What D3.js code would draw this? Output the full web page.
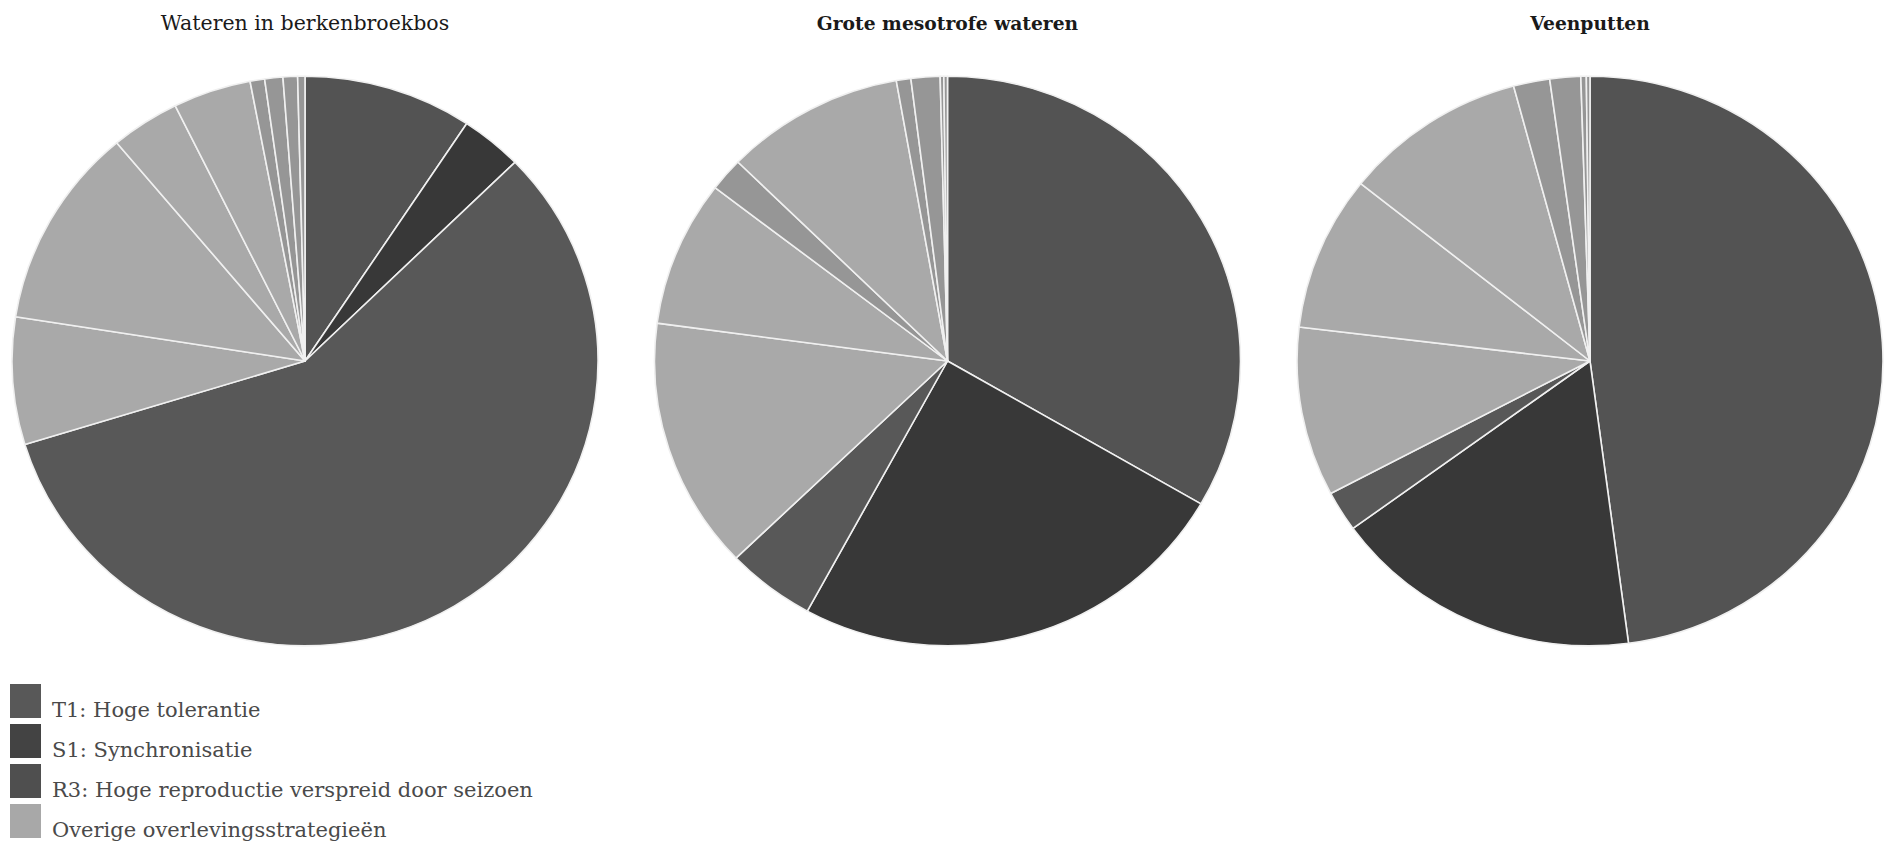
<!DOCTYPE html>
<html>
<head>
<meta charset="utf-8">
<script src="https://cdn.jsdelivr.net/npm/d3@7"></script>
<style>
  html, body { margin: 0; padding: 0; background: #ffffff; }
  svg { display: block; }
</style>
</head>
<body>
<svg id="chart" width="1887" height="845"></svg>
<script>
// ---- data (percentages, read clockwise from 12 o'clock) ----
const chartTitles = ["Wateren in berkenbroekbos", "Grote mesotrofe wateren", "Veenputten"];
const categories = ["T1: Hoge tolerantie", "S1: Synchronisatie", "R3: Hoge reproductie verspreid door seizoen", "Overige overlevingsstrategieën"];
const t1Values = [9.3, 33.4, 47.9];
const s1Values = [3.4, 24.6, 17.1];
const r3Values = [57.5, 4.9, 2.3];
const overigeBerkenbroekbos = [7.2, 11.4, 3.8, 4.3, 0.8, 1.0, 0.8, 0.4];
const overigeMesotroof = [14.3, 8.3, 1.9, 9.9, 0.8, 1.6, 0.2, 0.2];
const overigeVeenputten = [9.6, 8.8, 10.1, 2.0, 1.7, 0.3, 0.2];
const overigeValues = [overigeBerkenbroekbos, overigeMesotroof, overigeVeenputten];

// ---- styling ----
const colors = { "T1": "#535353", "S1": "#393939", "R3": "#595959", "O": "#a9a9a9", "Osmall": "#969696" };
const legendColors = ["#585858", "#434343", "#4f4f4f", "#a8a8a8"];

const svg = d3.select("#chart");
const defs = svg.append("defs");
defs.append("filter").attr("id", "soft")
  .attr("x", "-5%").attr("y", "-5%").attr("width", "110%").attr("height", "110%")
  .append("feGaussianBlur").attr("stdDeviation", 0.7);

const cx = d3.scalePoint().domain(chartTitles).range([305, 1590]);
const cy = 361;
const radius = 293;

const pie = d3.pie().sort(null).value(d => d.value).startAngle(0).endAngle(2 * Math.PI);
const arc = d3.arc().innerRadius(0).outerRadius(radius);

chartTitles.forEach((title, i) => {
  const slices = [
    { key: "T1", value: t1Values[i] },
    { key: "S1", value: s1Values[i] },
    { key: "R3", value: r3Values[i] },
    ...overigeValues[i].map(v => ({ key: "O", value: v }))
  ];
  const g = svg.append("g")
    .attr("transform", `translate(${cx(title)},${cy}) scale(1,0.972)`)
    .attr("filter", "url(#soft)");
  g.selectAll("path")
    .data(pie(slices))
    .join("path")
    .attr("d", arc)
    .attr("fill", d => d.data.key === "O" ? (d.data.value < 2.5 ? colors.Osmall : colors.O) : colors[d.data.key])
    .attr("stroke", "#f0f0f0")
    .attr("stroke-width", 1.6)
    .attr("stroke-linejoin", "round");

  svg.append("text")
    .attr("x", cx(title))
    .attr("y", 30)
    .attr("text-anchor", "middle")
    .attr("font-family", "'DejaVu Serif', serif")
    .attr("font-size", i === 0 ? 20.5 : 18.7)
    .attr("font-weight", i === 0 ? "normal" : "bold")
    .attr("fill", "#1a1a1a")
    .text(title);
});

// ---- legend ----
const legY = d3.scaleBand().domain(categories).range([684, 838]).paddingInner(0.15);
const leg = svg.append("g");
leg.selectAll("rect")
  .data(categories)
  .join("rect")
  .attr("x", 10)
  .attr("y", d => legY(d))
  .attr("width", 31)
  .attr("height", legY.bandwidth())
  .attr("fill", (d, i) => legendColors[i]);
leg.selectAll("text")
  .data(categories)
  .join("text")
  .attr("x", 52)
  .attr("y", d => legY(d) + legY.bandwidth() - 1)
  .attr("font-family", "'DejaVu Serif', serif")
  .attr("font-size", 21)
  .attr("fill", "#4a4a4a")
  .text(d => d);
</script>
</body>
</html>
